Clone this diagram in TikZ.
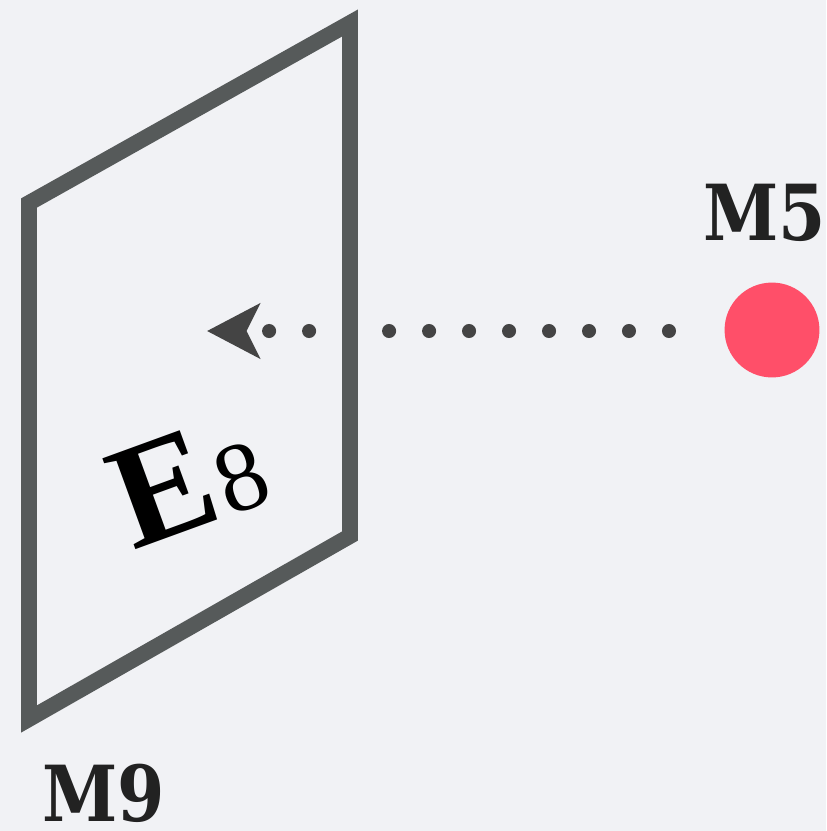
\documentclass[tikz,border=0pt]{standalone}
\usepackage{fontspec}
\setmainfont{Liberation Serif}
\newfontfamily\markfont[FakeStretch=0.88]{DejaVu Serif}
\usepackage{tikz}
\usepackage{xcolor}
\usetikzlibrary{arrows.meta, positioning}
\definecolor{Paper}{HTML}{F1F2F5}
\definecolor{Chalk}{HTML}{565A5A}
\definecolor{Ink}{HTML}{222222}
\definecolor{DotGray}{HTML}{444444}
\definecolor{Brane}{HTML}{FF4F69}

\begin{document}
\begin{tikzpicture}[x=0.02cm, y=-0.02cm,
  chalk/.style={draw=Chalk, line width=9pt, line join=miter},
  tag/.style={font=\markfont\bfseries\fontsize{44}{44}\selectfont, text=Ink, inner sep=0pt}]
% Background
\fill[Paper] (0,0) rectangle (826,831);
\useasboundingbox (0,0) rectangle (826,831);
% Corners of the wall
\coordinate (tl) at (29,203);
\coordinate (tr) at (350,23);
\coordinate (br) at (350,536);
\coordinate (bl) at (29,719);
% Point brane and its path
\node[circle, fill=Brane, minimum size=54pt, inner sep=0pt] (m5dot) at (772,330) {};
\coordinate (hit) at (207,331);
\draw[DotGray, line width=8pt, line cap=round, dash pattern=on 0pt off 22.76pt,
  -{Stealth[length=30pt, width=31pt, inset=7.5pt]}] (669,331) -- (hit);
% Wall
\draw[chalk] (tl) -- (tr) -- (br) -- (bl) -- cycle;
% Labels
\node[tag, anchor=base west] (m5) at (703,240) {M5};
\node[tag, anchor=base west] (m9) at (42,821) {M9};
\node[anchor=base west, inner sep=0pt, rotate=20] (e8) at (133,551)
  {\fontsize{84}{84}\selectfont\bfseries E\kern2pt\fontsize{56}{56}\selectfont\mdseries 8};
\end{tikzpicture}
\end{document}
